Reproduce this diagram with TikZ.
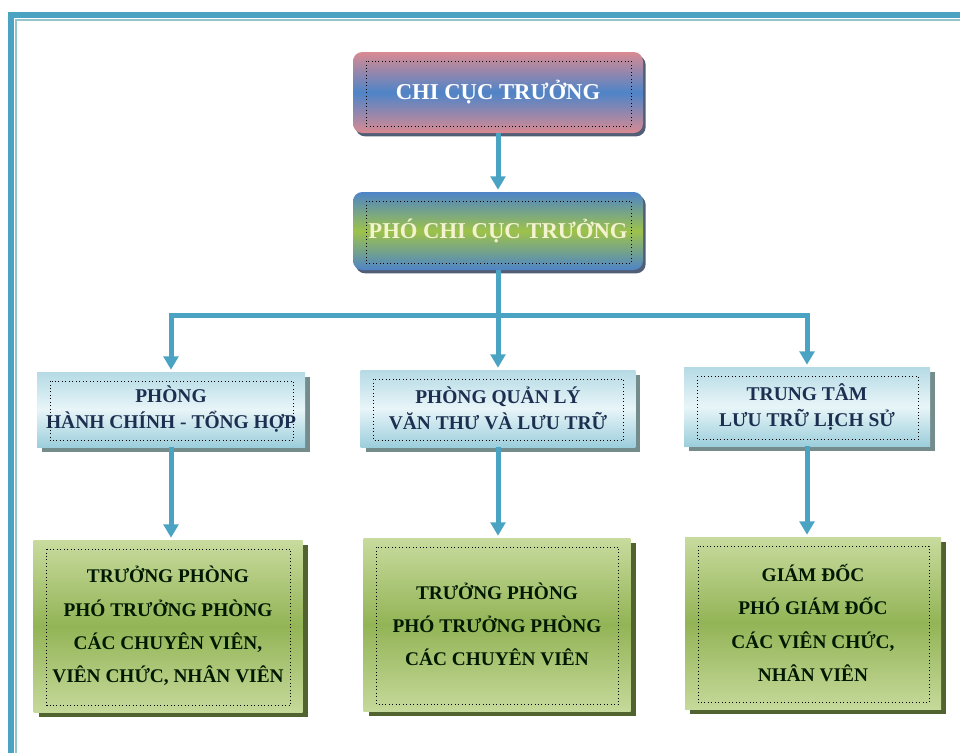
\documentclass[tikz,border=0pt]{standalone}
\usepackage{fontspec}
\setmainfont{Liberation Serif}
\usetikzlibrary{arrows.meta,shadows}

\definecolor{xanhvien}{HTML}{4BA3C3}
\definecolor{xanhnhat}{HTML}{93C4CC}
\definecolor{hongca}{HTML}{D98A92}
\definecolor{xanhduong}{HTML}{4E84C8}
\definecolor{xanhla}{HTML}{9DC24A}
\definecolor{xanhbang}{HTML}{9CCEDC}
\definecolor{xanhbangsang}{HTML}{E8F5F8}
\definecolor{lasang}{HTML}{C8DB9E}
\definecolor{ladam}{HTML}{93B456}
\definecolor{chuxanh}{HTML}{1C2F50}
\definecolor{chukem}{HTML}{F3F3CF}
\definecolor{bongxam}{HTML}{3E4C66}

\tikzset{
  muiten/.style={line width=3.75pt, xanhvien, -{Triangle[width=11pt,length=10pt]}, shorten >=1.5pt},
  duongnoi/.style={line width=3.75pt, xanhvien},
  hopchinh/.style={rounded corners=7pt, align=center, minimum width=217.5pt,
    font=\bfseries\fontsize{17}{20}\selectfont,
    drop shadow={shadow xshift=2pt, shadow yshift=-2.5pt, fill=bongxam, opacity=0.9}},
  hopphong/.style={align=center, text=chuxanh, top color=xanhbang!75, bottom color=xanhbang,
    middle color=xanhbangsang, font=\bfseries\fontsize{14.6}{19.5}\selectfont,
    drop shadow={shadow xshift=3.75pt, shadow yshift=-3.75pt, fill=gray!80!teal, opacity=0.9}},
  hopnhansu/.style={align=center, text=black!90!green, top color=lasang, bottom color=lasang!95!ladam,
    middle color=ladam, font=\bfseries\fontsize{14.5}{25}\selectfont,
    drop shadow={shadow xshift=3.75pt, shadow yshift=-3.75pt, fill=black!45!ladam, opacity=1}},
}

\begin{document}
\begin{tikzpicture}[x=0.75pt, y=-0.75pt]
    \useasboundingbox (0,0) rectangle (960,753);

    % Khung vien
    \draw[xanhvien, line width=4.5pt] (10.5,753) -- (10.5,14.5) -- (960,14.5);
    \draw[xanhnhat, line width=1.3pt] (15.8,753) -- (15.8,19.8) -- (960,19.8);

    % Lanh dao
    \node[hopchinh, text=white, minimum height=60.75pt, top color=hongca, bottom color=hongca,
      middle color=xanhduong] (cct) at (498,92.5) {CHI CỤC TRƯỞNG};
    \node[hopchinh, text=chukem, minimum height=58.5pt, top color=xanhduong, bottom color=xanhduong,
      middle color=xanhla] (pcct) at (498,231) {PHÓ CHI CỤC TRƯỞNG};

    % Cac phong
    \node[hopphong, minimum width=201pt, minimum height=56.25pt] (hc) at (171,409.5)
      {PHÒNG\\HÀNH CHÍNH - TỔNG HỢP};
    \node[hopphong, minimum width=206pt, minimum height=57.75pt] (ql) at (498,408.5)
      {PHÒNG QUẢN LÝ\\VĂN THƯ VÀ LƯU TRỮ};
    \node[hopphong, minimum width=184.5pt, minimum height=59.25pt] (tt) at (807,406.5)
      {TRUNG TÂM\\LƯU TRỮ LỊCH SỬ};

    % Nhan su
    \node[hopnhansu, minimum width=201.75pt, minimum height=129pt] (tp1) at (168,626)
      {TRƯỞNG PHÒNG\\PHÓ TRƯỞNG PHÒNG\\CÁC CHUYÊN VIÊN,\\VIÊN CHỨC, NHÂN VIÊN};
    \node[hopnhansu, minimum width=200.25pt, minimum height=129.75pt] (tp2) at (497,624.5)
      {TRƯỞNG PHÒNG\\PHÓ TRƯỞNG PHÒNG\\CÁC CHUYÊN VIÊN};
    \node[hopnhansu, minimum width=192pt, minimum height=129pt] (gd) at (813,623)
      {GIÁM ĐỐC\\PHÓ GIÁM ĐỐC\\CÁC VIÊN CHỨC,\\NHÂN VIÊN};

    % Khung cham ben trong
    \foreach \n in {cct,pcct,hc,ql,tt,tp1,tp2,gd}
      \draw[dotted, line width=0.6pt] ([shift={(10pt,-7pt)}]\n.north west) rectangle ([shift={(-9pt,5pt)}]\n.south east);

    % Mui ten
    \coordinate (nhanh) at (498,315);
    \draw[muiten] (cct) -- (pcct);
    \draw[duongnoi] (pcct.south) -- (nhanh);
    \draw[muiten] (nhanh) -| (hc.north);
    \draw[muiten] (nhanh) -| (tt.north);
    \draw[muiten] (nhanh) -- (ql.north);
    \draw[muiten] (hc.south) -- (hc.south |- tp1.north);
    \draw[muiten] (ql.south) -- (ql.south |- tp2.north);
    \draw[muiten] (tt.south) -- (tt.south |- gd.north);

\end{tikzpicture}
\end{document}
